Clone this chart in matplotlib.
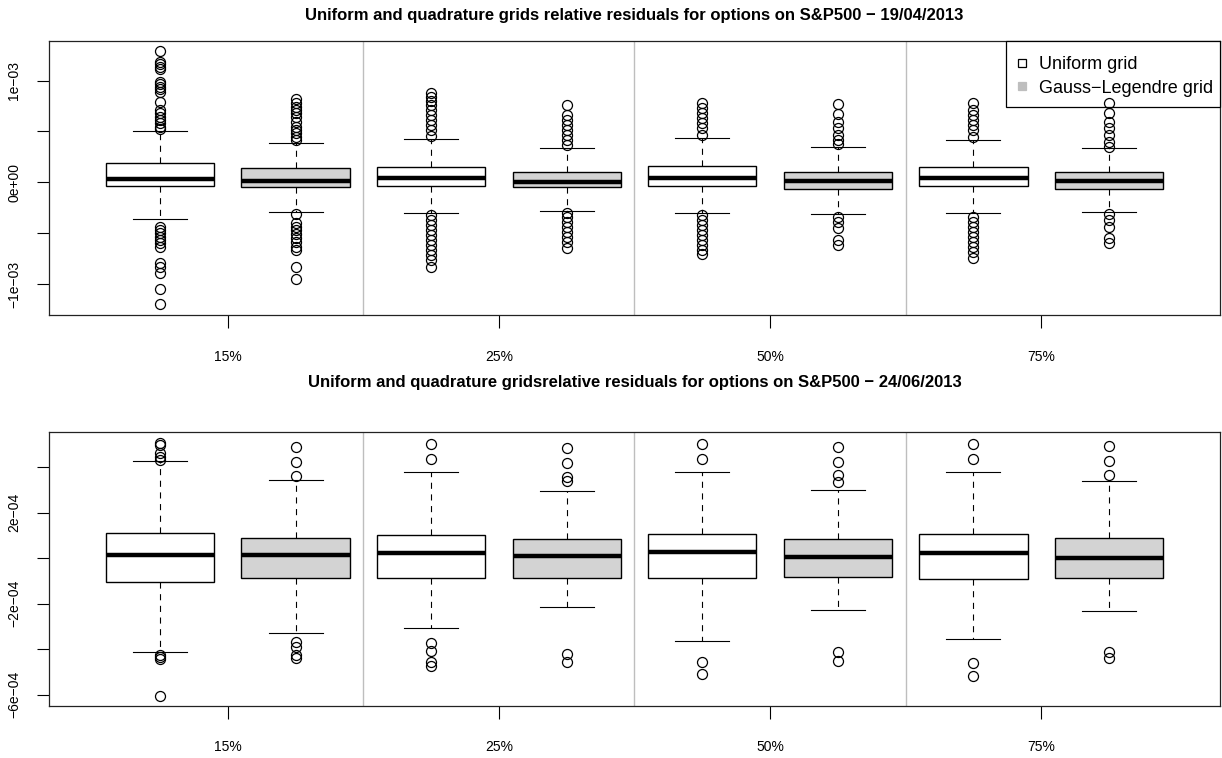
import numpy as np
import matplotlib
matplotlib.use("Agg")
import matplotlib.pyplot as plt
from matplotlib.lines import Line2D
from matplotlib.patches import Rectangle

plt.rcParams['font.family'] = ['Liberation Sans', 'DejaVu Sans']

groups = ["15%", "25%", "50%", "75%"]
methods = ["Uniform grid", "Gauss\u2212Legendre grid"]
fills = ["white", "#D3D3D3"]

titles = ["Uniform and quadrature grids relative residuals for options on S&P500 \u2212 19/04/2013",
          "Uniform and quadrature gridsrelative residuals for options on S&P500 \u2212 24/06/2013"]

# ---- top panel (values in units of 1e-3) ----
top_scale = 1e-3
top_q1 = [-0.039, -0.046, -0.033, -0.050, -0.033, -0.066, -0.033, -0.066]
top_med = [0.035, 0.013, 0.045, 0.006, 0.045, 0.016, 0.045, 0.016]
top_q3 = [0.187, 0.138, 0.153, 0.104, 0.157, 0.104, 0.153, 0.104]
top_lo = [-0.361, -0.289, -0.302, -0.282, -0.302, -0.309, -0.299, -0.295]
top_hi = [0.504, 0.390, 0.429, 0.340, 0.432, 0.347, 0.419, 0.334]
top_out = [
    [1.292, 1.18, 1.16, 1.138, 1.115, 0.99, 0.964, 0.941, 0.915, 0.892, 0.793, 0.711, 0.679,
     0.646, 0.613, 0.58, 0.548, 0.521, -0.436, -0.469, -0.502, -0.534, -0.567, -0.6, -0.633,
     -0.797, -0.83, -0.895, -1.049, -1.2],
    [0.816, 0.777, 0.744, 0.711, 0.679, 0.639, 0.597, 0.548, 0.515, 0.482, 0.449, 0.42,
     -0.315, -0.397, -0.436, -0.469, -0.508, -0.551, -0.59, -0.633, -0.666, -0.836, -0.948],
    [0.881, 0.842, 0.802, 0.76, 0.711, 0.662, 0.613, 0.563, 0.514, 0.455, -0.322, -0.371,
     -0.42, -0.469, -0.519, -0.568, -0.617, -0.666, -0.715, -0.765, -0.83],
    [0.76, 0.662, 0.613, 0.563, 0.514, 0.465, 0.416, 0.367, -0.299, -0.338, -0.387, -0.436,
     -0.486, -0.535, -0.584, -0.649],
    [0.783, 0.727, 0.678, 0.629, 0.58, 0.531, 0.465, -0.322, -0.371, -0.42, -0.469, -0.519,
     -0.568, -0.617, -0.666, -0.705],
    [0.77, 0.672, 0.596, 0.531, 0.465, 0.416, 0.377, -0.338, -0.387, -0.452, -0.568, -0.617],
    [0.783, 0.711, 0.662, 0.613, 0.563, 0.514, 0.449, -0.338, -0.387, -0.436, -0.486, -0.535,
     -0.584, -0.633, -0.682, -0.747],
    [0.777, 0.678, 0.596, 0.531, 0.465, 0.399, 0.35, -0.315, -0.371, -0.436, -0.551, -0.6],
]
top_ylim = (-1.305e-3, 1.389e-3)
top_yticks = [-1e-3, -5e-4, 0.0, 5e-4, 1e-3]
top_yticklabels = ["\u22121e\u221203", "", "0e+00", "", "1e\u221203"]

# ---- bottom panel (values in units of 1e-4) ----
bot_scale = 1e-4
bot_q1 = [-1.03, -0.866, -0.866, -0.88, -0.88, -0.835, -0.895, -0.866]
bot_med = [0.16, 0.145, 0.246, 0.10, 0.26, 0.044, 0.246, 0.029]
bot_q3 = [1.099, 0.892, 1.04, 0.835, 1.08, 0.86, 1.05, 0.88]
bot_lo = [-4.1, -3.27, -3.06, -2.15, -3.62, -2.27, -3.55, -2.3]
bot_hi = [4.26, 3.46, 3.78, 2.96, 3.79, 3.0, 3.78, 3.4]
bot_out = [
    [5.08, 4.98, 4.61, 4.47, 4.32, -4.25, -4.35, -4.44, -6.04],
    [4.88, 4.25, 3.63, -3.69, -3.9, -4.27, -4.38],
    [5.02, 4.36, -3.71, -4.07, -4.54, -4.73],
    [4.83, 4.2, 3.56, 3.41, -4.22, -4.57],
    [5.02, 4.36, -4.54, -5.09],
    [4.91, 4.25, 3.66, 3.37, -4.13, -4.5],
    [5.02, 4.36, -4.59, -5.16],
    [4.94, 4.28, 3.66, -4.13, -4.40],
]
bot_ylim = (-6.48e-4, 5.54e-4)
bot_yticks = [-6e-4, -4e-4, -2e-4, 0.0, 2e-4, 4e-4]
bot_yticklabels = ["\u22126e\u221204", "", "\u22122e\u221204", "", "2e\u221204", ""]


def make_stats(q1, med, q3, lo, hi, out, scale):
    return [dict(q1=a * scale, med=b * scale, q3=c * scale, whislo=d * scale,
                 whishi=e * scale, fliers=np.array(f) * scale, label='')
            for a, b, c, d, e, f in zip(q1, med, q3, lo, hi, out)]


fig = plt.figure(figsize=(12.22, 7.58), dpi=100)
W, H = 1222.0, 758.0
AX_L, AX_R = 49.0, 1220.0
TOP_T, TOP_B = 41.0, 315.0
ax_top = fig.add_axes([AX_L / W, 1 - TOP_B / H, (AX_R - AX_L) / W, (TOP_B - TOP_T) / H])
ax_bot = fig.add_axes([AX_L / W, 1 - 705.7 / H, (AX_R - AX_L) / W, (705.7 - 432.3) / H])

panels = [
    (ax_top, make_stats(top_q1, top_med, top_q3, top_lo, top_hi, top_out, top_scale),
     top_ylim, top_yticks, top_yticklabels, titles[0], 15.5),
    (ax_bot, make_stats(bot_q1, bot_med, bot_q3, bot_lo, bot_hi, bot_out, bot_scale),
     bot_ylim, bot_yticks, bot_yticklabels, titles[1], 383),
]

n = len(groups) * len(methods)
positions = np.arange(1, n + 1)

for ax, stats, ylim, yt, ytl, title, ty in panels:
    for xs in np.arange(2.5, n, 2):
        ax.axvline(xs, color='#BEBEBE', lw=1.0, zorder=1)
    bp = ax.bxp(stats, positions=positions, widths=0.8, patch_artist=True,
                showfliers=True, capwidths=0.4,
                boxprops=dict(edgecolor='black', linewidth=1.0),
                medianprops=dict(color='black', linewidth=3.2, solid_capstyle='butt'),
                whiskerprops=dict(color='black', linewidth=0.8, linestyle=(0, (5.5, 5))),
                capprops=dict(color='black', linewidth=0.8),
                flierprops=dict(marker='o', markerfacecolor='none', markeredgecolor='black',
                                markersize=7.2, markeredgewidth=0.9, linestyle='none'))
    for i, patch in enumerate(bp['boxes']):
        patch.set_facecolor(fills[i % 2])
        patch.set_zorder(2)
    for fl in bp['fliers']:
        fl.set_zorder(6)
    ax.set_xlim(0.18, n + 0.82)
    ax.set_ylim(*ylim)
    ax.set_xticks(np.arange(1.5, n + 1, 2))
    ax.set_xticklabels(groups, fontsize=10)
    ax.set_yticks(yt)
    ax.set_yticklabels(ytl, fontsize=10, rotation=90, va='center')
    ax.tick_params(axis='x', length=9, width=0.8, pad=16)
    ax.tick_params(axis='y', length=9, width=0.8, pad=11)
    for s in ax.spines.values():
        s.set_linewidth(0.9)
        s.set_color('#222222')
    fig.text(634.5 / W, 1 - ty / H, title, ha='center', va='center',
             fontsize=12, fontweight='bold')

# legend frame drawn as a rectangle (axes coords), legend entries without frame
aw, ah = AX_R - AX_L, TOP_B - TOP_T
fx0, fx1, fy_top, fy_bot = 1006.0, AX_R, TOP_T, 107.0
frame = Rectangle(((fx0 - AX_L) / aw, (TOP_B - fy_bot) / ah), (fx1 - fx0) / aw,
                  (fy_bot - fy_top) / ah, transform=ax_top.transAxes, facecolor='white',
                  edgecolor='black', linewidth=0.9, zorder=4, clip_on=False)
ax_top.add_patch(frame)

handles = [
    Line2D([], [], marker='s', linestyle='none', markerfacecolor='white',
           markeredgecolor='black', markersize=5.5, markeredgewidth=0.9),
    Line2D([], [], marker='s', linestyle='none', markerfacecolor='#BEBEBE',
           markeredgecolor='#BEBEBE', markersize=5.5, markeredgewidth=0.9),
]
leg = ax_top.legend(handles, methods, loc='upper left',
                    bbox_to_anchor=((1000.7 - AX_L) / aw, 1 - 1.5 / ah), borderaxespad=0,
                    fontsize=13, frameon=False, handlelength=0.9,
                    handletextpad=0.45, borderpad=0.75, labelspacing=0.36)
leg.set_zorder(5)

fig.savefig("out.png", dpi=100)
